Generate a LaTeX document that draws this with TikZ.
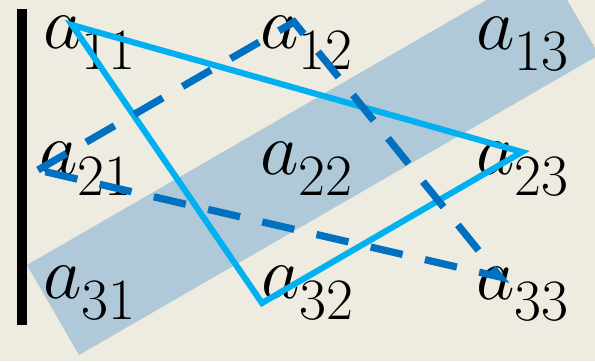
\RequirePackage{fix-cm}
\documentclass[tikz,border=0pt]{standalone}
\definecolor{paper}{HTML}{EEECE1}
\definecolor{band}{HTML}{AFC9D8}
\definecolor{lineblue}{HTML}{00B0F0}
\definecolor{darkblue}{HTML}{0070C0}
\newcommand{\ent}[1]{$a_{\raisebox{-0.14em}{\fontsize{50}{50}\selectfont #1}}$}
\begin{document}
\begin{tikzpicture}[x=0.03cm, y=-0.03cm,
  entry/.style={anchor=base west, inner sep=0pt, font=\fontsize{64}{64}\selectfont},
  barline/.style={line width=8.5pt},
  solidline/.style={draw=lineblue, line width=5.2pt},
  dashline/.style={draw=darkblue, line width=6.2pt, dash pattern=on 28pt off 19.5pt}]
 % Canvas
 \fill[paper] (0,0) rectangle (595,361);
 \useasboundingbox (0,0) rectangle (595,361);
 
 % Diagonal band
 \begin{scope}
  \clip (0,0) rectangle (595,361);
  \fill[band] (27,265) -- (79,355) -- (599,55) -- (547,-35) -- cycle;
 \end{scope}
 
 % Left bar
 \coordinate (bartop) at (22,9);
 \coordinate (barbot) at (22,325);
 \draw[barline] (bartop) -- (barbot);
 
 % Entries
 \node[entry] (a11) at (43,48) {\ent{11}};
 \node[entry] (a12) at (260,48) {\ent{12}};
 \node[entry] (a13) at (476,49) {\ent{13}};
 \node[entry] (a21) at (39,174) {\ent{21}};
 \node[entry] (a22) at (260,174) {\ent{22}};
 \node[entry] (a23) at (476,174) {\ent{23}};
 \node[entry] (a31) at (43,298) {\ent{31}};
 \node[entry] (a32) at (261,298) {\ent{32}};
 \node[entry] (a33) at (476,299) {\ent{33}};
 
 % Corners of the triangles
 \coordinate (p11) at (72,25);
 \coordinate (p23) at (522,152);
 \coordinate (p32) at (262,303);
 \coordinate (p21) at (38,170);
 \coordinate (p12) at (294,22);
 \coordinate (p33) at (500,277);
 
 % Solid triangle
 \draw[solidline] (p11) -- (p23) -- (p32) -- cycle;
 
 % Dashed triangle
 \draw[dashline] (p21) -- (p12) -- (p33) -- cycle;
 
\end{tikzpicture}
\end{document}
